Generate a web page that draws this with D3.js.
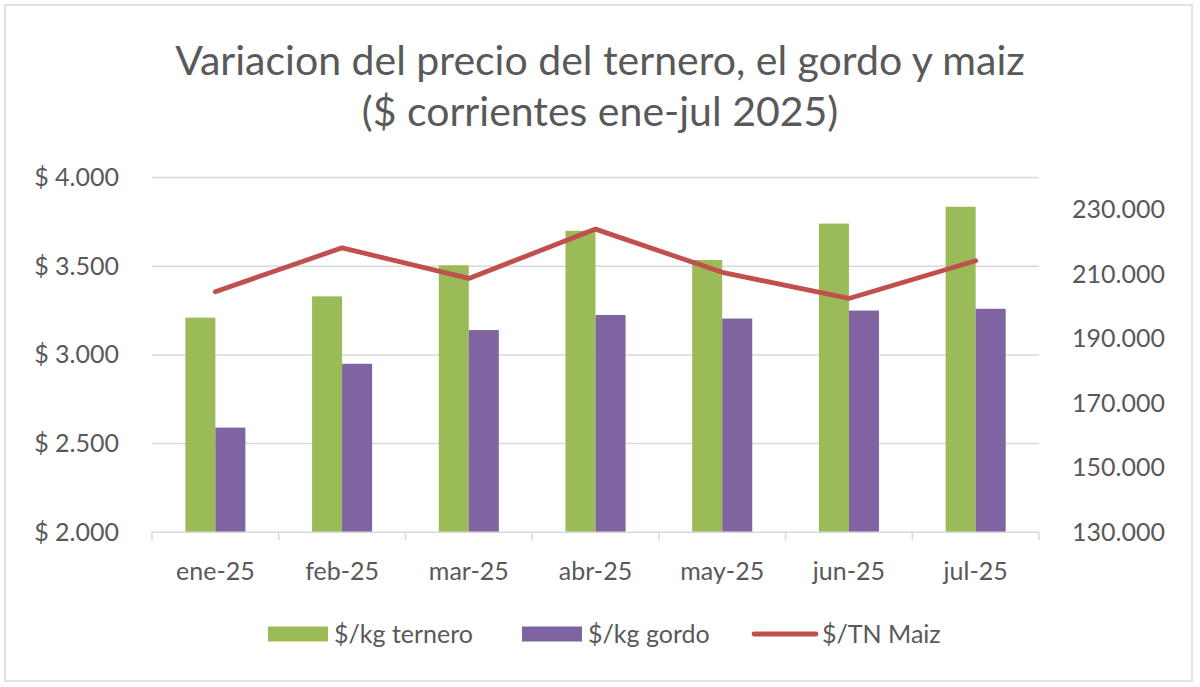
<!DOCTYPE html>
<html>
<head>
<meta charset="utf-8">
<script src="https://cdn.jsdelivr.net/npm/d3@7"></script>
<style>
  body { margin: 0; background: #fff; }
  text { font-family: Lato, "Open Sans", sans-serif; fill: #595959; }
</style>
</head>
<body>
<div id="chart"></div>
<script>
// data
var months = ["ene-25", "feb-25", "mar-25", "abr-25", "may-25", "jun-25", "jul-25"];
var ternero = [3210, 3330, 3505, 3700, 3535, 3740, 3835];
var gordo = [2590, 2950, 3140, 3225, 3205, 3250, 3260];
var maiz = [204600, 218200, 208700, 224000, 210600, 202500, 214200];
var leftTicks = [2000, 2500, 3000, 3500, 4000];
var rightTicks = [130000, 150000, 170000, 190000, 210000, 230000];
var seriesNames = ["$/kg ternero", "$/kg gordo", "$/TN Maiz"];

var width = 1200, height = 687;
var margin = {top: 177.5, right: 161, bottom: 154.7, left: 152};
var colors = {ternero: "#9bbb59", gordo: "#8064a2", maiz: "#c0504d", grid: "#d9d9d9"};

var es = d3.formatLocale({decimal: ",", thousands: ".", grouping: [3], currency: ["$ ", ""]});
var fmt = es.format(",");

var svg = d3.select("#chart").append("svg")
    .attr("width", width)
    .attr("height", height);

// outer chart border
svg.append("rect")
    .attr("x", 5).attr("y", 5)
    .attr("width", 1187).attr("height", 676)
    .attr("fill", "#fff")
    .attr("stroke", colors.grid)
    .attr("stroke-width", 1.5);

var x0 = margin.left, x1 = width - margin.right;
var yBase = height - margin.bottom;

var x = d3.scaleBand()
    .domain(months)
    .range([x0, x1])
    .paddingInner(0.526)
    .paddingOuter(0.263);

var xs = d3.scaleBand()
    .domain(["ternero", "gordo"])
    .range([0, x.bandwidth()]);

var y = d3.scaleLinear()
    .domain([2000, 4000])
    .range([yBase, margin.top]);

var y2 = d3.scaleLinear()
    .domain([130000, 240000])
    .range([yBase, margin.top]);

// gridlines
svg.append("g").selectAll("line")
    .data(leftTicks.slice(1))
    .enter().append("line")
    .attr("x1", x0).attr("x2", x1)
    .attr("y1", d => y(d)).attr("y2", d => y(d))
    .attr("stroke", colors.grid)
    .attr("stroke-width", 1.5);

// left axis labels
svg.append("g")
    .attr("transform", "translate(" + (x0 - 33) + ",0)")
    .call(d3.axisLeft(y).tickValues(leftTicks).tickSize(0).tickPadding(0)
        .tickFormat(d => "$ " + fmt(d)))
    .call(g => g.select(".domain").remove())
    .selectAll("text")
    .style("font-size", "25px")
    .attr("fill", "#595959");

// right axis labels
svg.append("g")
    .attr("transform", "translate(" + (x1 + 33) + ",0)")
    .call(d3.axisRight(y2).tickValues(rightTicks).tickSize(0).tickPadding(0)
        .tickFormat(d => fmt(d)))
    .call(g => g.select(".domain").remove())
    .selectAll("text")
    .style("font-size", "25px")
    .attr("fill", "#595959");

// bars
var groups = svg.append("g").selectAll("g")
    .data(months)
    .enter().append("g")
    .attr("transform", d => "translate(" + x(d) + ",0)");

groups.append("rect")
    .attr("x", xs("ternero"))
    .attr("width", xs.bandwidth())
    .attr("y", (d, i) => y(ternero[i]))
    .attr("height", (d, i) => yBase - y(ternero[i]))
    .attr("fill", colors.ternero);

groups.append("rect")
    .attr("x", xs("gordo"))
    .attr("width", xs.bandwidth())
    .attr("y", (d, i) => y(gordo[i]))
    .attr("height", (d, i) => yBase - y(gordo[i]))
    .attr("fill", colors.gordo);

// bottom axis line + category boundary ticks
var bottom = svg.append("g");
bottom.append("line")
    .attr("x1", x0).attr("x2", x1)
    .attr("y1", yBase).attr("y2", yBase)
    .attr("stroke", colors.grid)
    .attr("stroke-width", 1.5);
bottom.selectAll("line.tk")
    .data(d3.range(months.length + 1))
    .enter().append("line")
    .attr("class", "tk")
    .attr("x1", i => x0 + i * x.step()).attr("x2", i => x0 + i * x.step())
    .attr("y1", yBase).attr("y2", yBase + 8)
    .attr("stroke", colors.grid)
    .attr("stroke-width", 1.5);
bottom.selectAll("text")
    .data(months)
    .enter().append("text")
    .attr("x", d => x(d) + x.bandwidth() / 2)
    .attr("y", yBase + 48)
    .attr("text-anchor", "middle")
    .style("font-size", "25px")
    .text(d => d);

// maiz line
var line = d3.line()
    .x((d, i) => x(months[i]) + x.bandwidth() / 2)
    .y(d => y2(d));

svg.append("path")
    .datum(maiz)
    .attr("d", line)
    .attr("fill", "none")
    .attr("stroke", colors.maiz)
    .attr("stroke-width", 4.8)
    .attr("stroke-linejoin", "round")
    .attr("stroke-linecap", "round");

// title
var title = svg.append("text")
    .attr("x", 600)
    .attr("text-anchor", "middle")
    .style("font-size", "41px");
title.append("tspan").attr("x", 600).attr("y", 75).text("Variacion del precio del ternero, el gordo y maiz");
title.append("tspan").attr("x", 600).attr("y", 126).text("($ corrientes ene-jul 2025)");

// legend
var legendY = 634;
var legendX = [268, 522, 752];
var legend = svg.append("g");
var items = legend.selectAll("g")
    .data(seriesNames)
    .enter().append("g")
    .attr("transform", (d, i) => "translate(" + legendX[i] + "," + legendY + ")");

items.filter((d, i) => i < 2).append("rect")
    .attr("x", 0).attr("y", -7.5)
    .attr("width", 60).attr("height", 15)
    .attr("fill", (d, i) => i === 0 ? colors.ternero : colors.gordo);

items.filter((d, i) => i === 2).append("line")
    .attr("x1", 2).attr("x2", 64)
    .attr("y1", 0).attr("y2", 0)
    .attr("stroke", colors.maiz)
    .attr("stroke-width", 4.8)
    .attr("stroke-linecap", "round");

items.append("text")
    .attr("x", (d, i) => i === 2 ? 70 : 66)
    .attr("y", 0)
    .attr("dy", "0.35em")
    .style("font-size", "25px")
    .text(d => d);
</script>
</body>
</html>
